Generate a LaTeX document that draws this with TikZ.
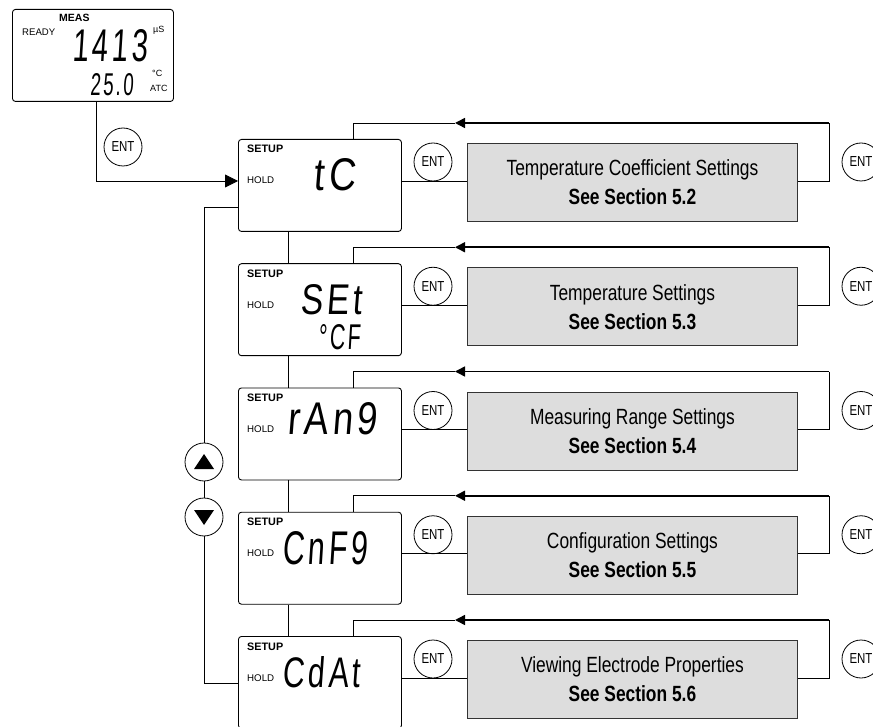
\documentclass[tikz,border=0pt]{standalone}
\usepackage{fontspec}
\setmainfont{Liberation Sans}
\newfontfamily\narrowfont[FakeStretch=0.79]{Liberation Sans}
\newfontfamily\segfont[FakeSlant=0.1,LetterSpace=12]{Liberation Sans}
\usetikzlibrary{arrows.meta,calc}
\tikzset{
  ln/.style={line width=0.8pt},
  retln/.style={line width=1.5pt,-{Triangle[length=10pt,width=10pt]}},
  setupbox/.style={draw,line width=0.9pt,rounded corners=3pt,minimum width=163pt,minimum height=92pt,anchor=north west,inner sep=0pt},
  graybox/.style={draw=black!80,fill={rgb,255:red,221;green,221;blue,221},line width=0.9pt,minimum width=330pt,minimum height=78pt,anchor=north west,inner sep=0pt,align=center,font=\narrowfont\fontsize{22}{29}\selectfont},
  entbtn/.style={draw,circle,minimum size=38pt,inner sep=0pt,fill=white,line width=0.8pt,font=\narrowfont\fontsize{14.5}{14}\selectfont},
  lbl/.style={inner sep=0pt,anchor=base west},
  seg/.style={inner sep=0pt,anchor=west},
}
\begin{document}
\begin{tikzpicture}[x=1pt,y=-1pt]
\useasboundingbox (0,0) rectangle (873,727);
\clip (0,0) rectangle (873,727);
% measuring display
\node[setupbox,minimum width=161pt,minimum height=92pt] (meas) at (12,9) {};
\node[lbl,font=\bfseries\fontsize{10.5}{12}\selectfont] (measl) at (59,22) {MEAS};
\node[lbl,font=\fontsize{9.6}{11}\selectfont] (ready) at (22,36) {READY};
\node[lbl,font=\fontsize{9}{10}\selectfont] (us) at (153,33) {µS};
\node[lbl,font=\fontsize{9}{10}\selectfont] (degc) at (152,77) {°C};
\node[lbl,font=\fontsize{9}{10}\selectfont] (atc) at (150,92) {ATC};
\node[seg] (d1) at (72,46) {\resizebox{75pt}{32pt}{\segfont 1413}};
\node[seg] (d2) at (90,85) {\resizebox{43pt}{22pt}{\segfont 25.0}};
\node[entbtn] (e0) at (123,147) {ENT};
% rows
\foreach \i/\c/\gtxt/\gsec in {1/181/Temperature Coefficient Settings/5.2,2/305.25/Temperature Settings/5.3,3/429.5/Measuring Range Settings/5.4,4/553.75/Configuration Settings/5.5,5/678/Viewing Electrode Properties/5.6}{
  \node[setupbox] (s\i) at (238,\c-42) {};
  \node[graybox] (g\i) at (467,\c-38) {\gtxt\\\textbf{See Section \gsec}};
  \node[entbtn] (el\i) at (433,\c-19) {ENT};
  \node[entbtn] (er\i) at (861,\c-19) {ENT};
  \node[lbl,font=\bfseries\fontsize{10.8}{12}\selectfont] (su\i) at (247,\c-28) {SETUP};
  \node[lbl,font=\fontsize{9.7}{11}\selectfont] (ho\i) at (247,\c+3) {HOLD};
  \coordinate (ra\i) at (353,\c-58);
  \coordinate (rb\i) at (829,\c-58);
  \coordinate (rc\i) at (829,\c);
  \coordinate (ar\i) at (455,\c-58);
  \draw[ln] (s\i.east |- rc\i) -- (g\i.west |- rc\i);
  \draw[ln] (s\i.north -| ra\i) -- (ra\i) -- (ar\i);
  \draw[ln] (g\i.east |- rc\i) -- (rc\i) -- (rb\i);
  \draw[retln] (rb\i) -- (ar\i);
}
% display texts
\node[seg] (t1) at (313,175) {\resizebox{42pt}{32pt}{\segfont tC}};
\node[seg] (t2) at (300,300) {\resizebox{62pt}{30pt}{\segfont SEt}};
\node[seg] (t2b) at (318,337.5) {\resizebox{42pt}{25pt}{\segfont °CF}};
\node[seg] (t3) at (287,419) {\resizebox{90pt}{32pt}{\segfont rAn9}};
\node[seg] (t4) at (282,548) {\resizebox{85pt}{33pt}{\segfont CnF9}};
\node[seg] (t5) at (282,672) {\resizebox{78pt}{31pt}{\segfont CdAt}};
% connectors between setup boxes
\coordinate (vx) at (288,0);
\draw[ln] (s1.south -| vx) -- (s2.north -| vx);
\draw[ln] (s2.south -| vx) -- (s3.north -| vx);
\draw[ln] (s3.south -| vx) -- (s4.north -| vx);
\draw[ln] (s4.south -| vx) -- (s5.north -| vx);
% entry arrow
\coordinate (mx) at (96,0);
\draw[ln,-{Triangle[length=13pt,width=13pt]}] (meas.south -| mx) |- (s1.west |- rc1);
% left loop
\coordinate (la) at (238,207);
\coordinate (lc) at (204,207);
\coordinate (ld) at (204,683);
\coordinate (lb) at (238,683);
\draw[ln] (la) -- (lc) -- (ld) -- (lb);
\node[entbtn] (up) at (204,462) {};
\node[entbtn] (down) at (204,517) {};
\fill ([shift={(-10,7)}]up.center) -- ([shift={(10,7)}]up.center) -- ([shift={(0,-8)}]up.center) -- cycle;
\fill ([shift={(-10,-7)}]down.center) -- ([shift={(10,-7)}]down.center) -- ([shift={(0,8)}]down.center) -- cycle;
\end{tikzpicture}
\end{document}
